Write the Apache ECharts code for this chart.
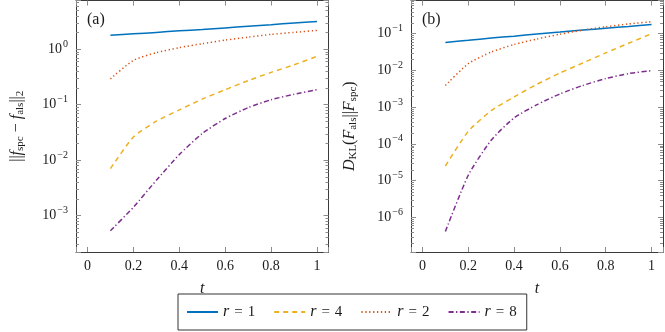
<!DOCTYPE html>
<html>
<head>
<meta charset="utf-8">
<script src="https://cdn.jsdelivr.net/npm/echarts@6/dist/echarts.min.js"></script>
<style>html,body{margin:0;padding:0;background:#fff;}#c{width:665px;height:332px;}</style>
</head>
<body>
<div id="c"></div>
<script>
// ---- data ----
const tValues = [0.1, 0.2, 0.3, 0.4, 0.5, 0.6, 0.7, 0.8, 0.9, 1.0];
// panel (a): ||f_spc - f_als||_2
const a_r1 = [1.77, 1.88, 2.0, 2.13, 2.26, 2.41, 2.57, 2.75, 2.95, 3.15];
const a_r2 = [0.29, 0.625, 0.86, 1.06, 1.25, 1.45, 1.64, 1.84, 2.0, 2.17];
const a_r4 = [0.007, 0.026, 0.05, 0.08, 0.125, 0.185, 0.27, 0.38, 0.52, 0.74];
const a_r8 = [5.3e-4, 1.4e-3, 4.3e-3, 0.0125, 0.030, 0.056, 0.088, 0.122, 0.153, 0.186];
// panel (b): D_KL(F_als || F_spc)
const b_r1 = [0.058, 0.066, 0.076, 0.086, 0.098, 0.111, 0.126, 0.141, 0.158, 0.179];
const b_r2 = [3.9e-3, 0.0153, 0.0316, 0.051, 0.072, 0.097, 0.125, 0.155, 0.185, 0.212];
const b_r4 = [2.5e-5, 2.2e-4, 8.0e-4, 1.9e-3, 4.2e-3, 8.5e-3, 0.016, 0.03, 0.055, 0.1];
const b_r8 = [4.1e-7, 1.4e-5, 1.26e-4, 5.1e-4, 1.17e-3, 2.3e-3, 3.9e-3, 6.0e-3, 8.2e-3, 9.9e-3];
const legendNames = ['r = 1', 'r = 4', 'r = 2', 'r = 8'];
const xTickLabels = ['0', '0.2', '0.4', '0.6', '0.8', '1'];

// ---- axis ranges ----
const XMIN = -0.05, XMAX = 1.05;
const A_YMIN = Math.pow(10, -3.66), A_YMAX = Math.pow(10, 0.876);
const B_YMIN = Math.pow(10, -6.945), B_YMAX = Math.pow(10, -0.095);

const FONT = '"Liberation Serif", "Times New Roman", "DejaVu Serif", serif';
const TXT = '#1a1a1a';
const FRAME = '#3a3a3a';
const TICK = '#8c8c8c';

const styles = {
  blue:   {color: '#0072BD', type: 'solid', width: 1.5},
  yellow: {color: '#EDB120', type: [5, 4], width: 1.5},
  red:    {color: '#D95319', type: [1.3, 2.6], width: 1.5},
  purple: {color: '#7E2F8E', type: [5, 2.5, 1.3, 2.5], width: 1.5}
};

function pairs(ys) { return tValues.map((t, i) => [t, ys[i]]); }

function minorTicks(lo, hi) {
  const out = [];
  for (let k = Math.floor(Math.log10(lo)); k <= Math.ceil(Math.log10(hi)); k++) {
    for (let m = 2; m <= 9; m++) {
      const v = m * Math.pow(10, k);
      if (v > lo && v < hi) out.push([0, v]);
    }
  }
  return out;
}

function xLabel(v) {
  const idx = Math.round(v / 0.2);
  if (Math.abs(v - idx * 0.2) > 1e-6 || idx < 0 || idx >= xTickLabels.length) return '';
  return xTickLabels[idx];
}
function yLabel(v) {
  const l = Math.log10(v);
  const e = Math.round(l);
  if (Math.abs(l - e) > 1e-6) return '';
  return '{b|10}{e|' + (e < 0 ? '\u2212' + (-e) : e) + '}';
}
const yRich = {
  b: {fontFamily: FONT, fontSize: 14, color: TXT},
  e: {fontFamily: FONT, fontSize: 10, color: TXT, padding: [0, 0, 10, 1]}
};

function xAxes(gi) {
  const base = {
    type: 'value', gridIndex: gi, min: XMIN, max: XMAX, splitNumber: 5,
    axisLine: {show: true, onZero: false, lineStyle: {color: FRAME, width: 1}},
    splitLine: {show: false}
  };
  return [
    Object.assign({}, base, {
      position: 'bottom',
      axisTick: {show: true, inside: true, length: 5, lineStyle: {color: TICK}},
      axisLabel: {show: true, margin: 7, formatter: xLabel, fontFamily: FONT, fontSize: 14, color: TXT,
                  showMinLabel: true, showMaxLabel: true},
      name: 't', nameLocation: 'middle', nameGap: 29,
      nameTextStyle: {fontFamily: FONT, fontSize: 16, fontStyle: 'italic', color: TXT}
    }),
    Object.assign({}, base, {
      position: 'top',
      axisTick: {show: true, inside: true, length: 5, lineStyle: {color: TICK}},
      axisLabel: {show: false}
    })
  ];
}
function yAxes(gi, lo, hi, name, nameGap, nameRich) {
  const base = {
    type: 'log', gridIndex: gi, min: lo, max: hi, logBase: 10,
    axisLine: {show: true, onZero: false, lineStyle: {color: FRAME, width: 1}},
    splitLine: {show: false}
  };
  return [
    Object.assign({}, base, {
      position: 'left',
      axisTick: {show: true, inside: true, length: 5, lineStyle: {color: TICK}},
      axisLabel: {show: true, margin: 8, formatter: yLabel, rich: yRich},
      name: name, nameLocation: 'middle', nameGap: nameGap, nameRotate: 90,
      nameTextStyle: {fontFamily: FONT, fontSize: 14, color: TXT, rich: nameRich}
    }),
    Object.assign({}, base, {
      position: 'right',
      axisTick: {show: true, inside: true, length: 5, lineStyle: {color: TICK}},
      axisLabel: {show: false}
    })
  ];
}

const nameRich = {
  i: {fontFamily: FONT, fontSize: 16, fontStyle: 'italic', color: TXT},
  s: {fontFamily: FONT, fontSize: 11, color: TXT, padding: [7, 0, 0, 0]},
  n: {fontFamily: FONT, fontSize: 16, color: TXT}
};
const nameA = '{n|||}{i|f}{s|spc}{n| \u2212 }{i|f}{s|als}{n|||}{s|2}';
const nameB = '{i|D}{s|KL}{n|(}{i|F}{s|als}{n|||}{i|F}{s|spc}{n|)}';

function lineSeries(name, gi, data, st) {
  return {
    name: name, type: 'line', xAxisIndex: gi * 2, yAxisIndex: gi * 2,
    data: pairs(data), symbol: 'none', showSymbol: false, smooth: 0.2,
    lineStyle: {color: st.color, type: st.type, width: st.width},
    itemStyle: {color: st.color}, z: 3, animation: false
  };
}
function minorSeries(gi, lo, hi) {
  return {
    name: 'minor' + gi, type: 'custom', xAxisIndex: gi * 2, yAxisIndex: gi * 2,
    data: minorTicks(lo, hi), silent: true, animation: false, z: 1,
    renderItem: function (params, api) {
      const v = api.value(1);
      const p1 = api.coord([XMIN, v]);
      const p2 = api.coord([XMAX, v]);
      const y = Math.round(p1[1]) + 0.5;
      return {type: 'group', children: [
        {type: 'line', shape: {x1: p1[0], y1: y, x2: p1[0] + 3, y2: y}, style: {stroke: TICK, lineWidth: 1}},
        {type: 'line', shape: {x1: p2[0] - 3, y1: y, x2: p2[0], y2: y}, style: {stroke: TICK, lineWidth: 1}}
      ]};
    }
  };
}

const chart = echarts.init(document.getElementById('c'), null, {renderer: 'canvas'});
chart.setOption({
  animation: false,
  backgroundColor: '#fff',
  grid: [
    {left: 76, top: 0.5, width: 252.5, height: 251.5, containLabel: false, outerBoundsMode: 'none'},
    {left: 411, top: 0.5, width: 252, height: 251.5, containLabel: false, outerBoundsMode: 'none'}
  ],
  xAxis: xAxes(0).concat(xAxes(1)),
  yAxis: yAxes(0, A_YMIN, A_YMAX, nameA, 50, nameRich).concat(yAxes(1, B_YMIN, B_YMAX, nameB, 52, nameRich)),
  legend: {
    data: legendNames, left: 178, top: 294, orient: 'horizontal',
    padding: [10, 10, 10, 8], itemGap: 18, itemWidth: 31, itemHeight: 14,
    borderColor: '#333', borderWidth: 1, borderRadius: 0, backgroundColor: '#fff',
    itemStyle: {opacity: 0, borderWidth: 0},
    formatter: function (n) { return '{i|r}{q|=}{n|' + n.split('=')[1].trim() + '}'; },
    textStyle: {fontFamily: FONT, fontSize: 14, color: TXT, rich: {
      i: {fontFamily: FONT, fontSize: 16, fontStyle: 'italic', color: TXT},
      q: {fontFamily: FONT, fontSize: 15, color: TXT, padding: [0, 5, 0, 5]},
      n: {fontFamily: FONT, fontSize: 15, color: TXT}
    }},
    selectedMode: false
  },
  graphic: [
    {type: 'text', left: 87, top: 12, style: {text: '(a)', fontFamily: FONT, fontSize: 16, fill: TXT}},
    {type: 'text', left: 422, top: 12, style: {text: '(b)', fontFamily: FONT, fontSize: 16, fill: TXT}}
  ],
  series: [
    minorSeries(0, A_YMIN, A_YMAX),
    minorSeries(1, B_YMIN, B_YMAX),
    lineSeries('r = 1', 0, a_r1, styles.blue),
    lineSeries('r = 4', 0, a_r4, styles.yellow),
    lineSeries('r = 2', 0, a_r2, styles.red),
    lineSeries('r = 8', 0, a_r8, styles.purple),
    lineSeries('r = 1', 1, b_r1, styles.blue),
    lineSeries('r = 4', 1, b_r4, styles.yellow),
    lineSeries('r = 2', 1, b_r2, styles.red),
    lineSeries('r = 8', 1, b_r8, styles.purple)
  ]
});
</script>
</body>
</html>
